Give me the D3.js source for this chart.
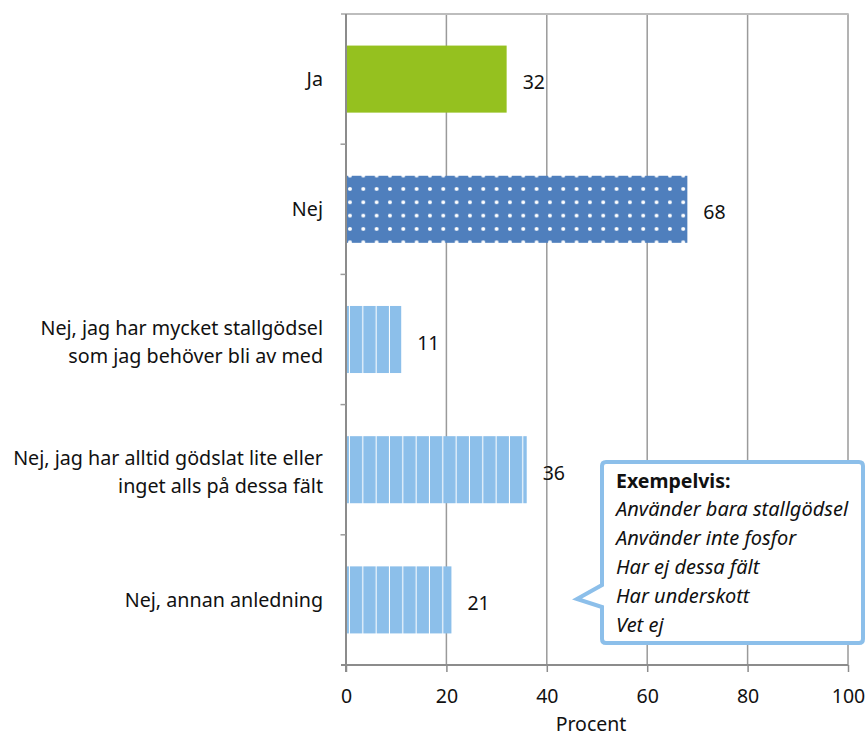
<!DOCTYPE html>
<html><head><meta charset="utf-8">
<script src="https://cdn.jsdelivr.net/npm/d3@7"></script>
<style>body{margin:0;background:#fff}</style>
</head><body>
<svg id="c" width="867" height="738"></svg>
<script>
const categories = [
  ["Ja"],
  ["Nej"],
  ["Nej, jag har mycket stallgödsel", "som jag behöver bli av med"],
  ["Nej, jag har alltid gödslat lite eller", "inget alls på dessa fält"],
  ["Nej, annan anledning"]
];
const values = [32, 68, 11, 36, 21];
const fills = ["green", "dots", "stripes", "stripes", "stripes"];
const xTicks = [0, 20, 40, 60, 80, 100];
const axisTitle = "Procent";
const calloutTitle = "Exempelvis:";
const calloutLines = ["Använder bara stallgödsel", "Använder inte fosfor", "Har ej dessa fält", "Har underskott", "Vet ej"];

const FONT = "'Noto Sans', sans-serif";
const svg = d3.select("#c");
const x = d3.scaleLinear().domain([0, 100]).range([346, 848]);
const y = d3.scaleBand().domain(d3.range(categories.length)).range([14, 665]).paddingInner(0.485).paddingOuter(0.2425);

const defs = svg.append("defs");
const pd = defs.append("pattern").attr("id", "dots").attr("patternUnits", "userSpaceOnUse")
  .attr("x", 343.3).attr("y", 182.3).attr("width", 13.33).attr("height", 13.33);
pd.append("rect").attr("width", 13.33).attr("height", 13.33).attr("fill", "#4f7fbd");
pd.append("circle").attr("cx", 6.67).attr("cy", 6.67).attr("r", 2).attr("fill", "#fff");
const ps = defs.append("pattern").attr("id", "stripes").attr("patternUnits", "userSpaceOnUse")
  .attr("x", 350).attr("y", 0).attr("width", 13.33).attr("height", 20);
ps.append("rect").attr("width", 13.33).attr("height", 20).attr("fill", "#8cbfea");
ps.append("rect").attr("x", 12.3).attr("width", 1.6).attr("height", 20).attr("fill", "#fff");

const fillOf = f => f === "green" ? "#95c11f" : f === "dots" ? "url(#dots)" : "url(#stripes)";

// gridlines
svg.append("g").selectAll("line").data(xTicks.filter(d => d > 0)).join("line")
  .attr("x1", d => x(d)).attr("x2", d => x(d)).attr("y1", 14).attr("y2", 665)
  .attr("stroke", "#9a9a9a").attr("stroke-width", 1.5);
// top border
svg.append("line").attr("x1", 341).attr("x2", 848.7).attr("y1", 14).attr("y2", 14)
  .attr("stroke", "#bdbdbd").attr("stroke-width", 2);

// bars
svg.append("g").selectAll("rect").data(values).join("rect")
  .attr("x", x(0)).attr("y", (d, i) => y(i)).attr("width", d => x(d) - x(0)).attr("height", y.bandwidth())
  .attr("fill", (d, i) => fillOf(fills[i]));

// value labels
svg.append("g").selectAll("text").data(values).join("text")
  .attr("x", d => x(d) + 16).attr("y", (d, i) => y(i) + y.bandwidth() / 2 + 10)
  .attr("font-family", FONT).attr("font-size", 19.5).attr("fill", "#111").text(d => d);

// y axis line and ticks
svg.append("line").attr("x1", x(0)).attr("x2", x(0)).attr("y1", 14).attr("y2", 672)
  .attr("stroke", "#8c8c8c").attr("stroke-width", 2);
svg.append("g").selectAll("line").data(d3.range(1, categories.length)).join("line")
  .attr("x1", 340.5).attr("x2", x(0)).attr("y1", i => y(i) - y.step() * y.paddingInner() / 2).attr("y2", i => y(i) - y.step() * y.paddingInner() / 2)
  .attr("stroke", "#9a9a9a").attr("stroke-width", 1.5);

// x axis
const xa = svg.append("g").attr("transform", "translate(0,665)")
  .call(d3.axisBottom(x).tickValues(xTicks).tickSize(7).tickPadding(17).tickSizeOuter(0));
xa.select(".domain").attr("stroke", "#8c8c8c").attr("stroke-width", 2).attr("d", "M341,0H848");
xa.selectAll(".tick line").attr("stroke", "#8c8c8c").attr("stroke-width", 1.5);
xa.selectAll(".tick text").attr("font-family", FONT).attr("font-size", 19.5).attr("fill", "#111");
svg.append("text").attr("x", 591).attr("y", 731).attr("text-anchor", "middle")
  .attr("font-family", FONT).attr("font-size", 19.5).attr("fill", "#111").text(axisTitle);

// category labels
const cl = svg.append("g");
categories.forEach((lines, i) => {
  const cy = y(i) + y.bandwidth() / 2;
  const t = cl.append("text").attr("text-anchor", "end").attr("font-family", FONT).attr("font-size", 19.7).attr("fill", "#111");
  if (lines.length === 1) {
    t.append("tspan").attr("x", 323).attr("y", cy + 7).text(lines[0]);
  } else {
    lines.forEach((l, j) => t.append("tspan").attr("x", 323).attr("y", cy - 5 + 28 * j).text(l));
  }
});

// callout
const bx0 = 602, bx1 = 863, by0 = 462, by1 = 643, r = 4;
const path = `M${bx0 + r},${by0} H${bx1 - r} Q${bx1},${by0} ${bx1},${by0 + r} V${by1 - r} Q${bx1},${by1} ${bx1 - r},${by1} H${bx0 + r} Q${bx0},${by1} ${bx0},${by1 - r} V607 L577,599 L${bx0},585 V${by0 + r} Q${bx0},${by0} ${bx0 + r},${by0} Z`;
svg.append("path").attr("d", path).attr("fill", "#fff").attr("stroke", "#8cbfea").attr("stroke-width", 4).attr("stroke-linejoin", "miter");
svg.append("text").attr("x", 616).attr("y", 488).attr("font-family", FONT).attr("font-size", 19.5)
  .attr("font-weight", "bold").attr("fill", "#111").text(calloutTitle);
svg.append("g").selectAll("text").data(calloutLines).join("text")
  .attr("x", 616).attr("y", (d, i) => 516 + 29 * i).attr("font-family", FONT).attr("font-size", 20)
  .attr("font-style", "italic").attr("fill", "#111").text(d => d);
</script>
</body></html>
